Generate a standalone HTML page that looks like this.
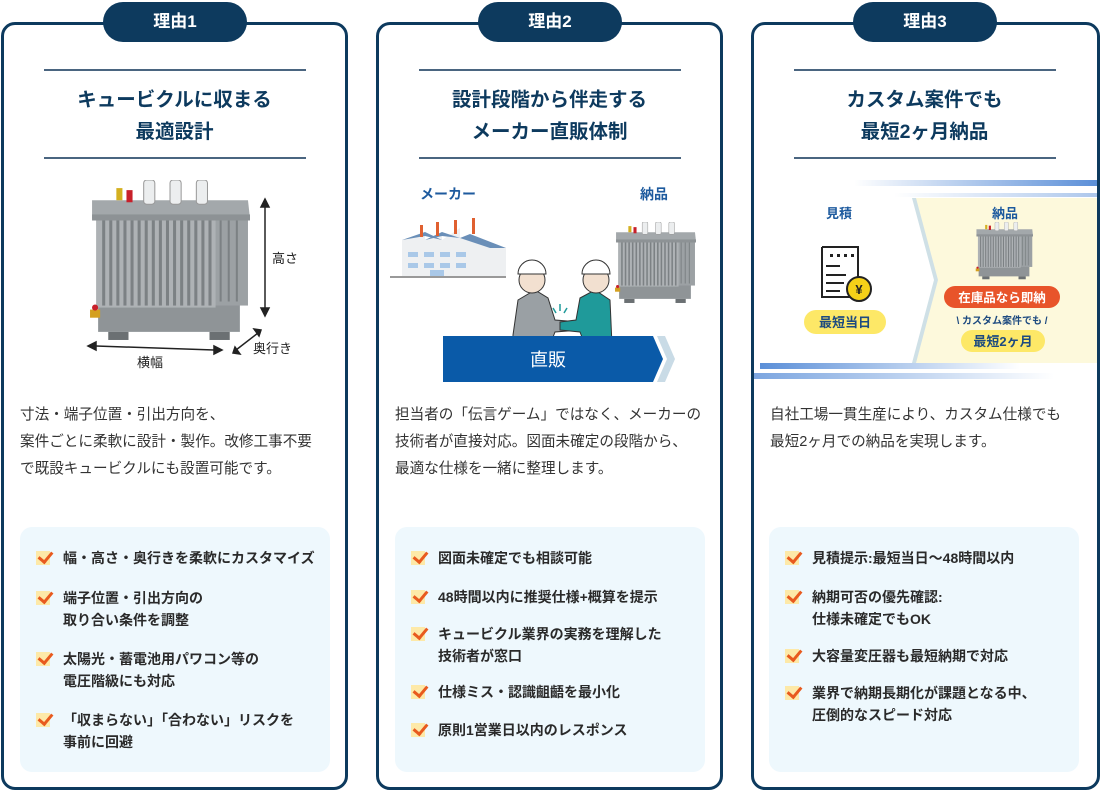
<!DOCTYPE html>
<html><head><meta charset="utf-8">
<style>
*{margin:0;padding:0;box-sizing:border-box}
body{width:1100px;height:792px;background:#fff;position:relative;overflow:hidden;font-family:"Liberation Sans","Noto Sans CJK JP",sans-serif;color:#333}
.card{position:absolute;top:22px;width:347px;height:768px;border:3px solid #0d3a5e;border-radius:14px;background:#fff}
.tab{position:absolute;top:2px;width:144px;height:40px;border-radius:20px;background:#0d3a5e;color:#fff;font-weight:bold;font-size:17px;text-align:center;line-height:40px}
.hl{position:absolute;height:1.5px;background:#4a6580;width:262px}
.title{position:absolute;width:347px;text-align:center;color:#0d3a5e;font-weight:bold;font-size:19.5px;line-height:32px}
.para{position:absolute;font-size:14.6px;line-height:27px;white-space:nowrap;color:#333}
.box{position:absolute;top:527px;width:310px;height:245px;background:#eef8fd;border-radius:12px}
.it{position:absolute;font-size:14px;font-weight:bold;line-height:22px;white-space:nowrap;color:#2a2a2a;padding-left:43px}
.it::before{content:"";position:absolute;left:16px;top:4px;width:14px;height:14px;background:#fde9a8}
.it::after{content:"";position:absolute;left:21px;top:2px;width:6px;height:11px;border-right:3px solid #e85a1e;border-bottom:3px solid #e85a1e;transform:rotate(40deg)}
.lbl{position:absolute;font-weight:bold;color:#1d5a9e;font-size:14px;white-space:nowrap}
</style></head><body>
<svg width="0" height="0" style="position:absolute">
<defs>
<symbol id="tr" viewBox="0 0 160 160">
<rect x="10" y="120" width="140" height="30" fill="#8f9497"/>
<rect x="20" y="150" width="20" height="8" fill="#6b7073"/><rect x="120" y="150" width="20" height="8" fill="#6b7073"/>
<rect x="122" y="38" width="36" height="86" fill="#9ca1a4"/>
<rect x="8" y="38" width="118" height="88" fill="#aeb2b5"/>
<g fill="#7c8184">
<rect x="14" y="40" width="3" height="84"/><rect x="21" y="40" width="3" height="84"/><rect x="28" y="40" width="3" height="84"/><rect x="35" y="40" width="3" height="84"/><rect x="42" y="40" width="3" height="84"/><rect x="49" y="40" width="3" height="84"/><rect x="56" y="40" width="3" height="84"/><rect x="63" y="40" width="3" height="84"/><rect x="70" y="40" width="3" height="84"/><rect x="77" y="40" width="3" height="84"/><rect x="84" y="40" width="3" height="84"/><rect x="91" y="40" width="3" height="84"/><rect x="98" y="40" width="3" height="84"/><rect x="105" y="40" width="3" height="84"/><rect x="112" y="40" width="3" height="84"/><rect x="119" y="40" width="3" height="84"/>
<rect x="130" y="40" width="2" height="80"/><rect x="138" y="40" width="2" height="80"/><rect x="146" y="40" width="2" height="80"/></g>
<polygon points="4,20 158,20 160,38 4,38" fill="#a3a8ab"/>
<rect x="4" y="34" width="156" height="6" fill="#8d9295"/>
<g fill="#eceeef" stroke="#999" stroke-width="1"><rect x="55" y="0" width="11" height="24" rx="3"/><rect x="81" y="0" width="11" height="24" rx="3"/><rect x="107" y="0" width="11" height="24" rx="3"/></g>
<rect x="38" y="10" width="6" height="12" fill="#c8202a"/><rect x="28" y="8" width="6" height="12" fill="#d4b020"/>
<rect x="2" y="128" width="10" height="8" fill="#d4a020"/><circle cx="7" cy="126" r="3" fill="#c8202a"/>
</symbol>
</defs></svg>

<!-- Card 1 -->
<div class="card" style="left:1px"></div>
<div class="tab" style="left:103px">理由1</div>
<div class="hl" style="left:44px;top:69px"></div>
<div class="title" style="left:1px;top:84px">キュービクルに収まる<br>最適設計</div>
<div class="hl" style="left:44px;top:157px"></div>
<svg style="position:absolute;left:0;top:170px" width="350" height="210">
<use href="#tr" x="88" y="10" width="162" height="162"/>
<g stroke="#222" stroke-width="1.5" fill="#222">
<line x1="265" y1="35" x2="265" y2="140"/>
<polygon points="261,37 269,37 265,29"/><polygon points="261,138 269,138 265,146"/>
<line x1="96" y1="176" x2="214" y2="180"/>
<polygon points="96,172 96,180 88,176"/><polygon points="214,176 214,184 222,180"/>
<line x1="236" y1="180" x2="258" y2="163"/>
<polygon points="233,183 240,184 235,177"/><polygon points="261,160 254,159 259,166"/>
</g>
<text x="272" y="93" font-size="13" fill="#222" font-family="Liberation Sans,Noto Sans CJK JP,sans-serif">高さ</text>
<text x="253" y="183" font-size="13" fill="#222" font-family="Liberation Sans,Noto Sans CJK JP,sans-serif">奥行き</text>
<text x="137" y="197" font-size="13" fill="#222" font-family="Liberation Sans,Noto Sans CJK JP,sans-serif">横幅</text>
</svg>
<div class="para" style="left:20px;top:402px">寸法・端子位置・引出方向を、<br>案件ごとに柔軟に設計・製作。改修工事不要<br>で既設キュービクルにも設置可能です。</div>
<div class="box" style="left:20px"></div>
<div class="it" style="left:20px;top:547px">幅・高さ・奥行きを柔軟にカスタマイズ</div>
<div class="it" style="left:20px;top:587px">端子位置・引出方向の<br>取り合い条件を調整</div>
<div class="it" style="left:20px;top:648px">太陽光・蓄電池用パワコン等の<br>電圧階級にも対応</div>
<div class="it" style="left:20px;top:709px">「収まらない」「合わない」リスクを<br>事前に回避</div>

<!-- Card 2 -->
<div class="card" style="left:376px"></div>
<div class="tab" style="left:478px">理由2</div>
<div class="hl" style="left:419px;top:69px"></div>
<div class="title" style="left:376px;top:84px">設計段階から伴走する<br>メーカー直販体制</div>
<div class="hl" style="left:419px;top:157px"></div>
<div class="lbl" style="left:420px;top:184px">メーカー</div>
<div class="lbl" style="left:640px;top:184px">納品</div>
<svg style="position:absolute;left:380px;top:170px" width="340" height="215">
<rect x="10" y="106" width="116" height="2" fill="#999"/>
<polygon points="22,70 45,62 45,70 62,62 62,70 80,58 80,68 126,78 126,106 22,106" fill="#eef0f2"/>
<polygon points="22,70 45,62 62,70 45,66" fill="#6a8fb8"/>
<polygon points="45,70 62,62 80,68 62,66" fill="#6a8fb8"/>
<polygon points="80,68 90,64 126,78 110,78" fill="#6a8fb8"/>
<g fill="#e06030"><rect x="40" y="55" width="3" height="12"/><rect x="56" y="52" width="3" height="14"/><rect x="74" y="50" width="3" height="14"/><rect x="92" y="48" width="3" height="16"/></g>
<g fill="#a9c8e8"><rect x="28" y="82" width="10" height="5"/><rect x="44" y="82" width="10" height="5"/><rect x="60" y="82" width="10" height="5"/><rect x="76" y="82" width="10" height="5"/><rect x="28" y="93" width="10" height="5"/><rect x="44" y="93" width="10" height="5"/><rect x="60" y="93" width="10" height="5"/><rect x="76" y="93" width="10" height="5"/><rect x="50" y="100" width="14" height="6"/></g>
<use href="#tr" x="234" y="52" width="82" height="82"/>
<path d="M133 165 L138 130 L155 120 L168 128 L175 150 L200 152 L200 160 L175 162 L170 175 L133 175Z" fill="#9aa0a4" stroke="#333"/>
<circle cx="152" cy="110" r="13" fill="#f2e0d0" stroke="#333"/>
<path d="M138 104 A14 14 0 0 1 166 104 Z" fill="#fff" stroke="#333"/>
<path d="M232 175 L230 130 L215 120 L200 128 L196 150 L180 152 L180 160 L200 162 L205 175Z" fill="#1f9a9a" stroke="#333"/>
<circle cx="216" cy="110" r="13" fill="#f2e0d0" stroke="#333"/>
<path d="M202 104 A14 14 0 0 1 230 104 Z" fill="#fff" stroke="#333"/>
<g stroke="#1f9a9a" stroke-width="1.5"><line x1="173" y1="138" x2="176" y2="143"/><line x1="180" y1="134" x2="180" y2="141"/><line x1="187" y1="138" x2="184" y2="143"/></g>
<polygon points="277,166 285,166 295,189 285,212 277,212 287,189" fill="#c9dbe6"/>
<polygon points="63,166 273,166 283,189 273,212 63,212" fill="#0a5aa8"/>
<text x="168" y="196" text-anchor="middle" font-size="18" fill="#fff" font-family="Liberation Sans,Noto Sans CJK JP,sans-serif">直販</text>
</svg>
<div class="para" style="left:395px;top:402px">担当者の「伝言ゲーム」ではなく、メーカーの<br>技術者が直接対応。図面未確定の段階から、<br>最適な仕様を一緒に整理します。</div>
<div class="box" style="left:395px"></div>
<div class="it" style="left:395px;top:547px">図面未確定でも相談可能</div>
<div class="it" style="left:395px;top:586px">48時間以内に推奨仕様+概算を提示</div>
<div class="it" style="left:395px;top:623px">キュービクル業界の実務を理解した<br>技術者が窓口</div>
<div class="it" style="left:395px;top:681px">仕様ミス・認識齟齬を最小化</div>
<div class="it" style="left:395px;top:719px">原則1営業日以内のレスポンス</div>

<!-- Card 3 -->
<div class="card" style="left:751px;width:349px"></div>
<div class="tab" style="left:853px">理由3</div>
<div class="hl" style="left:794px;top:69px"></div>
<div class="title" style="left:751px;top:84px">カスタム案件でも<br>最短2ヶ月納品</div>
<div class="hl" style="left:794px;top:157px"></div>
<svg style="position:absolute;left:754px;top:170px" width="343" height="215">
<defs>
<linearGradient id="g1" x1="0" x2="1"><stop offset="0" stop-color="#5b8fd8" stop-opacity="0"/><stop offset="1" stop-color="#5b8fd8"/></linearGradient>
<linearGradient id="g2" x1="0" x2="1"><stop offset="0" stop-color="#5b8fd8"/><stop offset="1" stop-color="#5b8fd8" stop-opacity="0"/></linearGradient>
</defs>
<rect x="100" y="10" width="243" height="6" fill="url(#g1)"/>
<rect x="140" y="23" width="203" height="4" fill="url(#g1)" opacity=".5"/>
<polygon points="160,28 343,28 343,193 160,193 182,110" fill="#fdf9dc"/>
<polygon points="158,28 162,28 184,110 162,193 158,193 180,110" fill="#cfe0e6"/>
<rect x="6" y="193" width="260" height="6" fill="url(#g2)"/>
<rect x="0" y="203" width="300" height="6" fill="url(#g2)" opacity=".8"/>
<text x="85" y="48" text-anchor="middle" font-size="13" font-weight="bold" fill="#1d5a9e" font-family="Liberation Sans,Noto Sans CJK JP,sans-serif">見積</text>
<text x="251" y="48" text-anchor="middle" font-size="13" font-weight="bold" fill="#1d5a9e" font-family="Liberation Sans,Noto Sans CJK JP,sans-serif">納品</text>
<path d="M68 77 L104 77 L104 110 M68 77 L68 127 L96 127" fill="none" stroke="#222" stroke-width="2"/>
<g fill="#222"><rect x="76" y="84" width="3" height="3"/><rect x="83" y="84" width="3" height="3"/><rect x="90" y="84" width="3" height="3"/><rect x="97" y="84" width="3" height="3"/><rect x="72" y="95" width="14" height="2"/><rect x="72" y="104" width="20" height="2"/><rect x="72" y="112" width="18" height="2"/><rect x="72" y="120" width="14" height="2"/></g>
<circle cx="105" cy="119" r="12" fill="#f5d118" stroke="#222" stroke-width="2"/>
<text x="105" y="124" text-anchor="middle" font-size="13" font-weight="bold" fill="#222" font-family="Liberation Sans,Noto Sans CJK JP,sans-serif">¥</text>
<rect x="50" y="140" width="82" height="24" rx="12" fill="#fde867"/>
<text x="91" y="157" text-anchor="middle" font-size="13" font-weight="bold" fill="#1d4a80" font-family="Liberation Sans,Noto Sans CJK JP,sans-serif">最短当日</text>
<use href="#tr" x="218" y="52" width="64" height="58"/>
<rect x="190" y="116" width="116" height="22" rx="11" fill="#e8542a"/>
<text x="248" y="132" text-anchor="middle" font-size="12.5" font-weight="bold" fill="#fff" font-family="Liberation Sans,Noto Sans CJK JP,sans-serif">在庫品なら即納</text>
<text x="248" y="154" text-anchor="middle" font-size="10" font-weight="bold" fill="#1d4a80" font-family="Liberation Sans,Noto Sans CJK JP,sans-serif">\ カスタム案件でも /</text>
<rect x="207" y="160" width="84" height="22" rx="11" fill="#fde867"/>
<text x="249" y="176" text-anchor="middle" font-size="13" font-weight="bold" fill="#1d4a80" font-family="Liberation Sans,Noto Sans CJK JP,sans-serif">最短2ヶ月</text>
</svg>
<div class="para" style="left:770px;top:402px">自社工場一貫生産により、カスタム仕様でも<br>最短2ヶ月での納品を実現します。</div>
<div class="box" style="left:769px"></div>
<div class="it" style="left:769px;top:547px">見積提示:最短当日〜48時間以内</div>
<div class="it" style="left:769px;top:586px">納期可否の優先確認:<br>仕様未確定でもOK</div>
<div class="it" style="left:769px;top:645px">大容量変圧器も最短納期で対応</div>
<div class="it" style="left:769px;top:682px">業界で納期長期化が課題となる中、<br>圧倒的なスピード対応</div>
</body></html>
